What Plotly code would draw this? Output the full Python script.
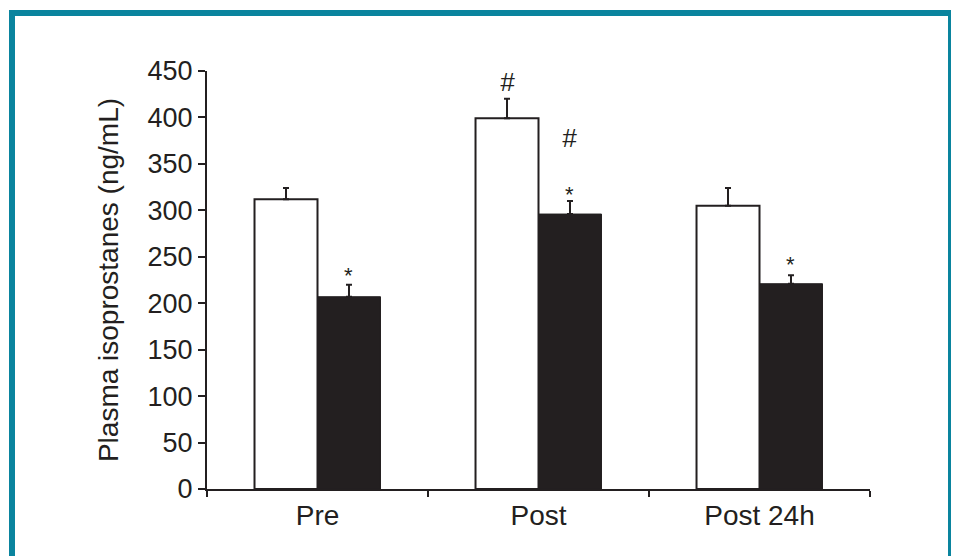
import plotly.graph_objects as go

categories = ["Pre", "Post", "Post 24h"]
white_values = [312, 399, 305]
white_errors = [12, 21, 19]
black_values = [207, 296, 221]
black_errors = [13, 14, 9]
y_ticks = [0, 50, 100, 150, 200, 250, 300, 350, 400, 450]
y_title = "Plasma isoprostanes (ng/mL)"

# annotation marks: (category index, side offset, value, text)
marks_text = ["*", "#", "#", "*", "*"]
marks_cat = [0, 1, 1, 1, 2]
marks_side = [1, -1, 1, 1, 1]
marks_val = [236, 438, 378, 324, 248]

# page body has an 8px margin; compensate so the picture lands where the reference is
OFF = 8
W, H = 959 - OFF, 556 - OFF
L, R, T, B = 207 - OFF, 89, 71 - OFF, 67
INK = "#231f20"
FONT = "Liberation Sans, Arial, Helvetica, sans-serif"

fig = go.Figure()
fig.add_trace(go.Bar(
    x=categories, y=white_values, name="white",
    marker=dict(color="white", line=dict(color=INK, width=2)),
    error_y=dict(type="data", array=white_errors, arrayminus=[0]*3, symmetric=False,
                 color=INK, thickness=2, width=3),
))
fig.add_trace(go.Bar(
    x=categories, y=black_values, name="black",
    marker=dict(color=INK, line=dict(color=INK, width=1)),
    error_y=dict(type="data", array=black_errors, arrayminus=[0]*3, symmetric=False,
                 color=INK, thickness=2, width=3),
))

bargap = 0.43
half = (1 - bargap) / 4
for t, c, s, v in zip(marks_text, marks_cat, marks_side, marks_val):
    is_star = t == "*"
    fig.add_annotation(
        x=c + s * half, y=v, xref="x", yref="y",
        text=t if is_star else "<i>" + t + "</i>", showarrow=False,
        font=dict(family=FONT, size=22 if is_star else 26, color=INK),
        xanchor="center", yanchor="middle", yshift=-6 if is_star else 0,
    )

pw = W - L - R
ph = H - T - B
def px(x):
    return (x - OFF - L) / pw
def py(y):
    return (H - B - (y - OFF)) / ph

fig.add_shape(type="rect", xref="paper", yref="paper",
              x0=px(12), x1=px(951), y0=py(600), y1=py(13),
              line=dict(color="#0a849e", width=6), fillcolor="rgba(0,0,0,0)", layer="below")

fig.update_layout(
    width=W, height=H,
    margin=dict(l=L, r=R, t=T, b=B, pad=0),
    paper_bgcolor="white", plot_bgcolor="white",
    barmode="group", bargap=bargap, bargroupgap=0,
    showlegend=False,
    font=dict(family=FONT, color=INK),
)
fig.update_xaxes(
    type="category", range=[-0.5, 2.5], tickson="boundaries",
    showline=True, linecolor=INK, linewidth=2,
    ticks="outside", ticklen=6, tickwidth=2, tickcolor=INK,
    tickfont=dict(size=28, color=INK), showgrid=False, zeroline=False,
)
fig.update_yaxes(
    range=[0, 450], tickvals=y_ticks, ticktext=[str(v) for v in y_ticks],
    showline=True, linecolor=INK, linewidth=2,
    ticks="outside", ticklen=7, tickwidth=2, tickcolor=INK,
    tickfont=dict(size=27, color=INK), showgrid=False, zeroline=False,
    title=dict(text=y_title, font=dict(size=28, color=INK), standoff=21),
)

fig.write_html("out.html")
